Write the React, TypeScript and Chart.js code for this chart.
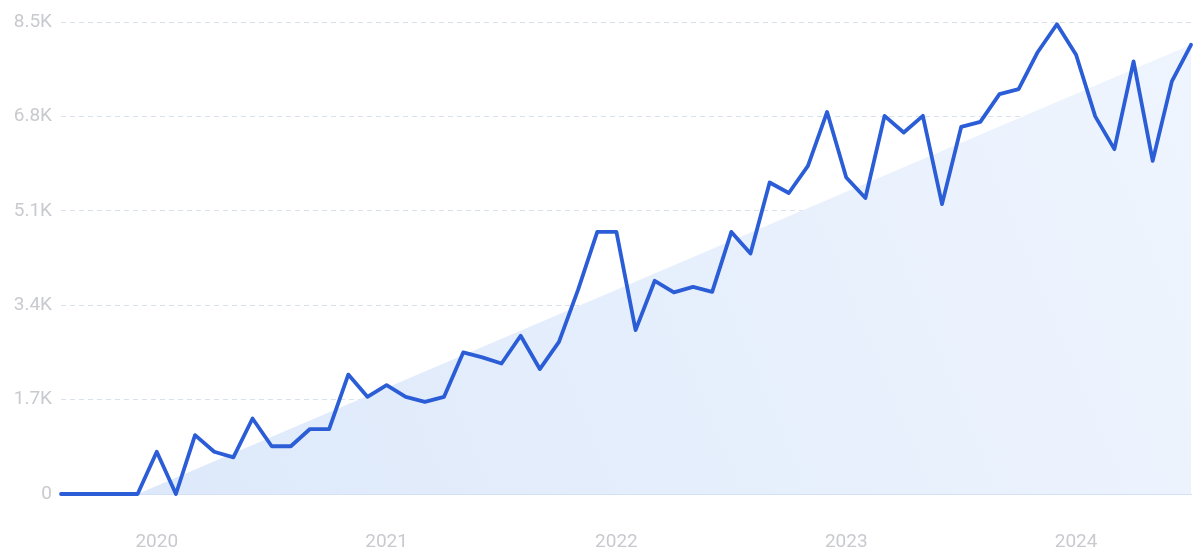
import React, { useEffect, useRef } from "react";
import { Chart, registerables } from "chart.js";

Chart.register(...registerables);

// Monthly categories, Aug 2019 .. Jul 2024
const months: string[] = [
  "2019-08", "2019-09", "2019-10", "2019-11", "2019-12",
  "2020-01", "2020-02", "2020-03", "2020-04", "2020-05", "2020-06", "2020-07", "2020-08", "2020-09", "2020-10", "2020-11", "2020-12",
  "2021-01", "2021-02", "2021-03", "2021-04", "2021-05", "2021-06", "2021-07", "2021-08", "2021-09", "2021-10", "2021-11", "2021-12",
  "2022-01", "2022-02", "2022-03", "2022-04", "2022-05", "2022-06", "2022-07", "2022-08", "2022-09", "2022-10", "2022-11", "2022-12",
  "2023-01", "2023-02", "2023-03", "2023-04", "2023-05", "2023-06", "2023-07", "2023-08", "2023-09", "2023-10", "2023-11", "2023-12",
  "2024-01", "2024-02", "2024-03", "2024-04", "2024-05", "2024-06", "2024-07",
];

// Search volume series
const volume: number[] = [
  0, 0, 0, 0, 0,
  760, 0, 1060, 760, 660, 1360, 860, 860, 1170, 1170, 2150, 1750,
  1960, 1750, 1660, 1750, 2550, 2460, 2350, 2850, 2250, 2740, 3680, 4720,
  4720, 2950, 3840, 3630, 3730, 3640, 4720, 4330, 5610, 5420, 5910, 6880,
  5700, 5330, 6810, 6510, 6810, 5220, 6610, 6700, 7200, 7290, 7960, 8460,
  7910, 6800, 6210, 7790, 6000, 7430, 8090,
];

// Trend area: start and end points
const trendPoints = [
  { x: "2019-12", y: 0 },
  { x: "2024-07", y: 8090 },
];

const yTickValues: number[] = [0, 1700, 3400, 5100, 6800, 8500];
const yTickLabels: string[] = ["0", "1.7K", "3.4K", "5.1K", "6.8K", "8.5K"];
const xYearLabels: string[] = ["2020", "2021", "2022", "2023", "2024"];

export default function App() {
  const ref = useRef<HTMLCanvasElement | null>(null);

  useEffect(() => {
    if (!ref.current) return;
    const tickFont = { family: "Roboto, 'Noto Sans', sans-serif", size: 19 };
    const chart = new Chart(ref.current, {
      type: "line",
      data: {
        labels: months,
        datasets: [
          {
            label: "Volume",
            data: volume,
            borderColor: "#2b5dd6",
            borderWidth: 3.8,
            borderJoinStyle: "round",
            borderCapStyle: "round",
            pointRadius: 0,
            tension: 0,
            fill: false,
            clip: false as any,
            order: 1,
          },
          {
            label: "Trend",
            data: trendPoints as any,
            borderWidth: 0,
            borderColor: "rgba(0,0,0,0)",
            pointRadius: 0,
            fill: "origin",
            tension: 0,
            order: 2,
            backgroundColor: (ctx: any) => {
              const c = ctx.chart;
              const area = c.chartArea;
              if (!area) return "#e4eefb";
              const g = c.ctx.createLinearGradient(area.left, area.bottom, area.right, area.top);
              g.addColorStop(0, "#dce8fa");
              g.addColorStop(1, "#eff5fe");
              return g;
            },
          },
        ],
      },
      options: {
        animation: false,
        responsive: true,
        maintainAspectRatio: false,
        layout: { padding: { top: 22, right: 9, left: 0, bottom: 0 } },
        plugins: { legend: { display: false }, tooltip: { enabled: false } },
        scales: {
          x: {
            type: "category",
            offset: false,
            grid: { display: false, drawTicks: false },
            border: { display: true, color: "#d3e0f5", width: 1 },
            ticks: {
              autoSkip: false,
              maxRotation: 0,
              minRotation: 0,
              padding: 37,
              color: "#c9cacf",
              font: tickFont,
              callback: (_v: any, i: number) => {
                const m = months[i];
                if (m && m.endsWith("-01")) {
                  const y = m.slice(0, 4);
                  return xYearLabels.includes(y) ? y : "";
                }
                return "";
              },
            },
            afterFit: (scale: any) => {
              scale.height = 63;
              scale.paddingLeft = 0;
              scale.paddingRight = 0;
            },
          },
          y: {
            min: 0,
            max: 8500,
            grid: {
              drawTicks: false,
              color: (ctx: any) => (ctx.tick && ctx.tick.value === 0 ? "rgba(0,0,0,0)" : "#dae1ee"),
              lineWidth: 1,
            },
            border: { display: false, dash: [5, 4] },
            afterBuildTicks: (scale: any) => {
              scale.ticks = yTickValues.map((v) => ({ value: v }));
            },
            ticks: {
              padding: 9,
              color: "#c9cacf",
              font: tickFont,
              callback: (v: any) => {
                const i = yTickValues.indexOf(Number(v));
                return i >= 0 ? yTickLabels[i] : "";
              },
            },
            afterFit: (scale: any) => {
              scale.width = 61;
            },
          },
        },
      },
    });
    return () => chart.destroy();
  }, []);

  return (
    <div style={{ position: "absolute", left: 0, top: 0, width: 1200, height: 557, background: "#fff" }}>
      <canvas ref={ref} />
    </div>
  );
}
